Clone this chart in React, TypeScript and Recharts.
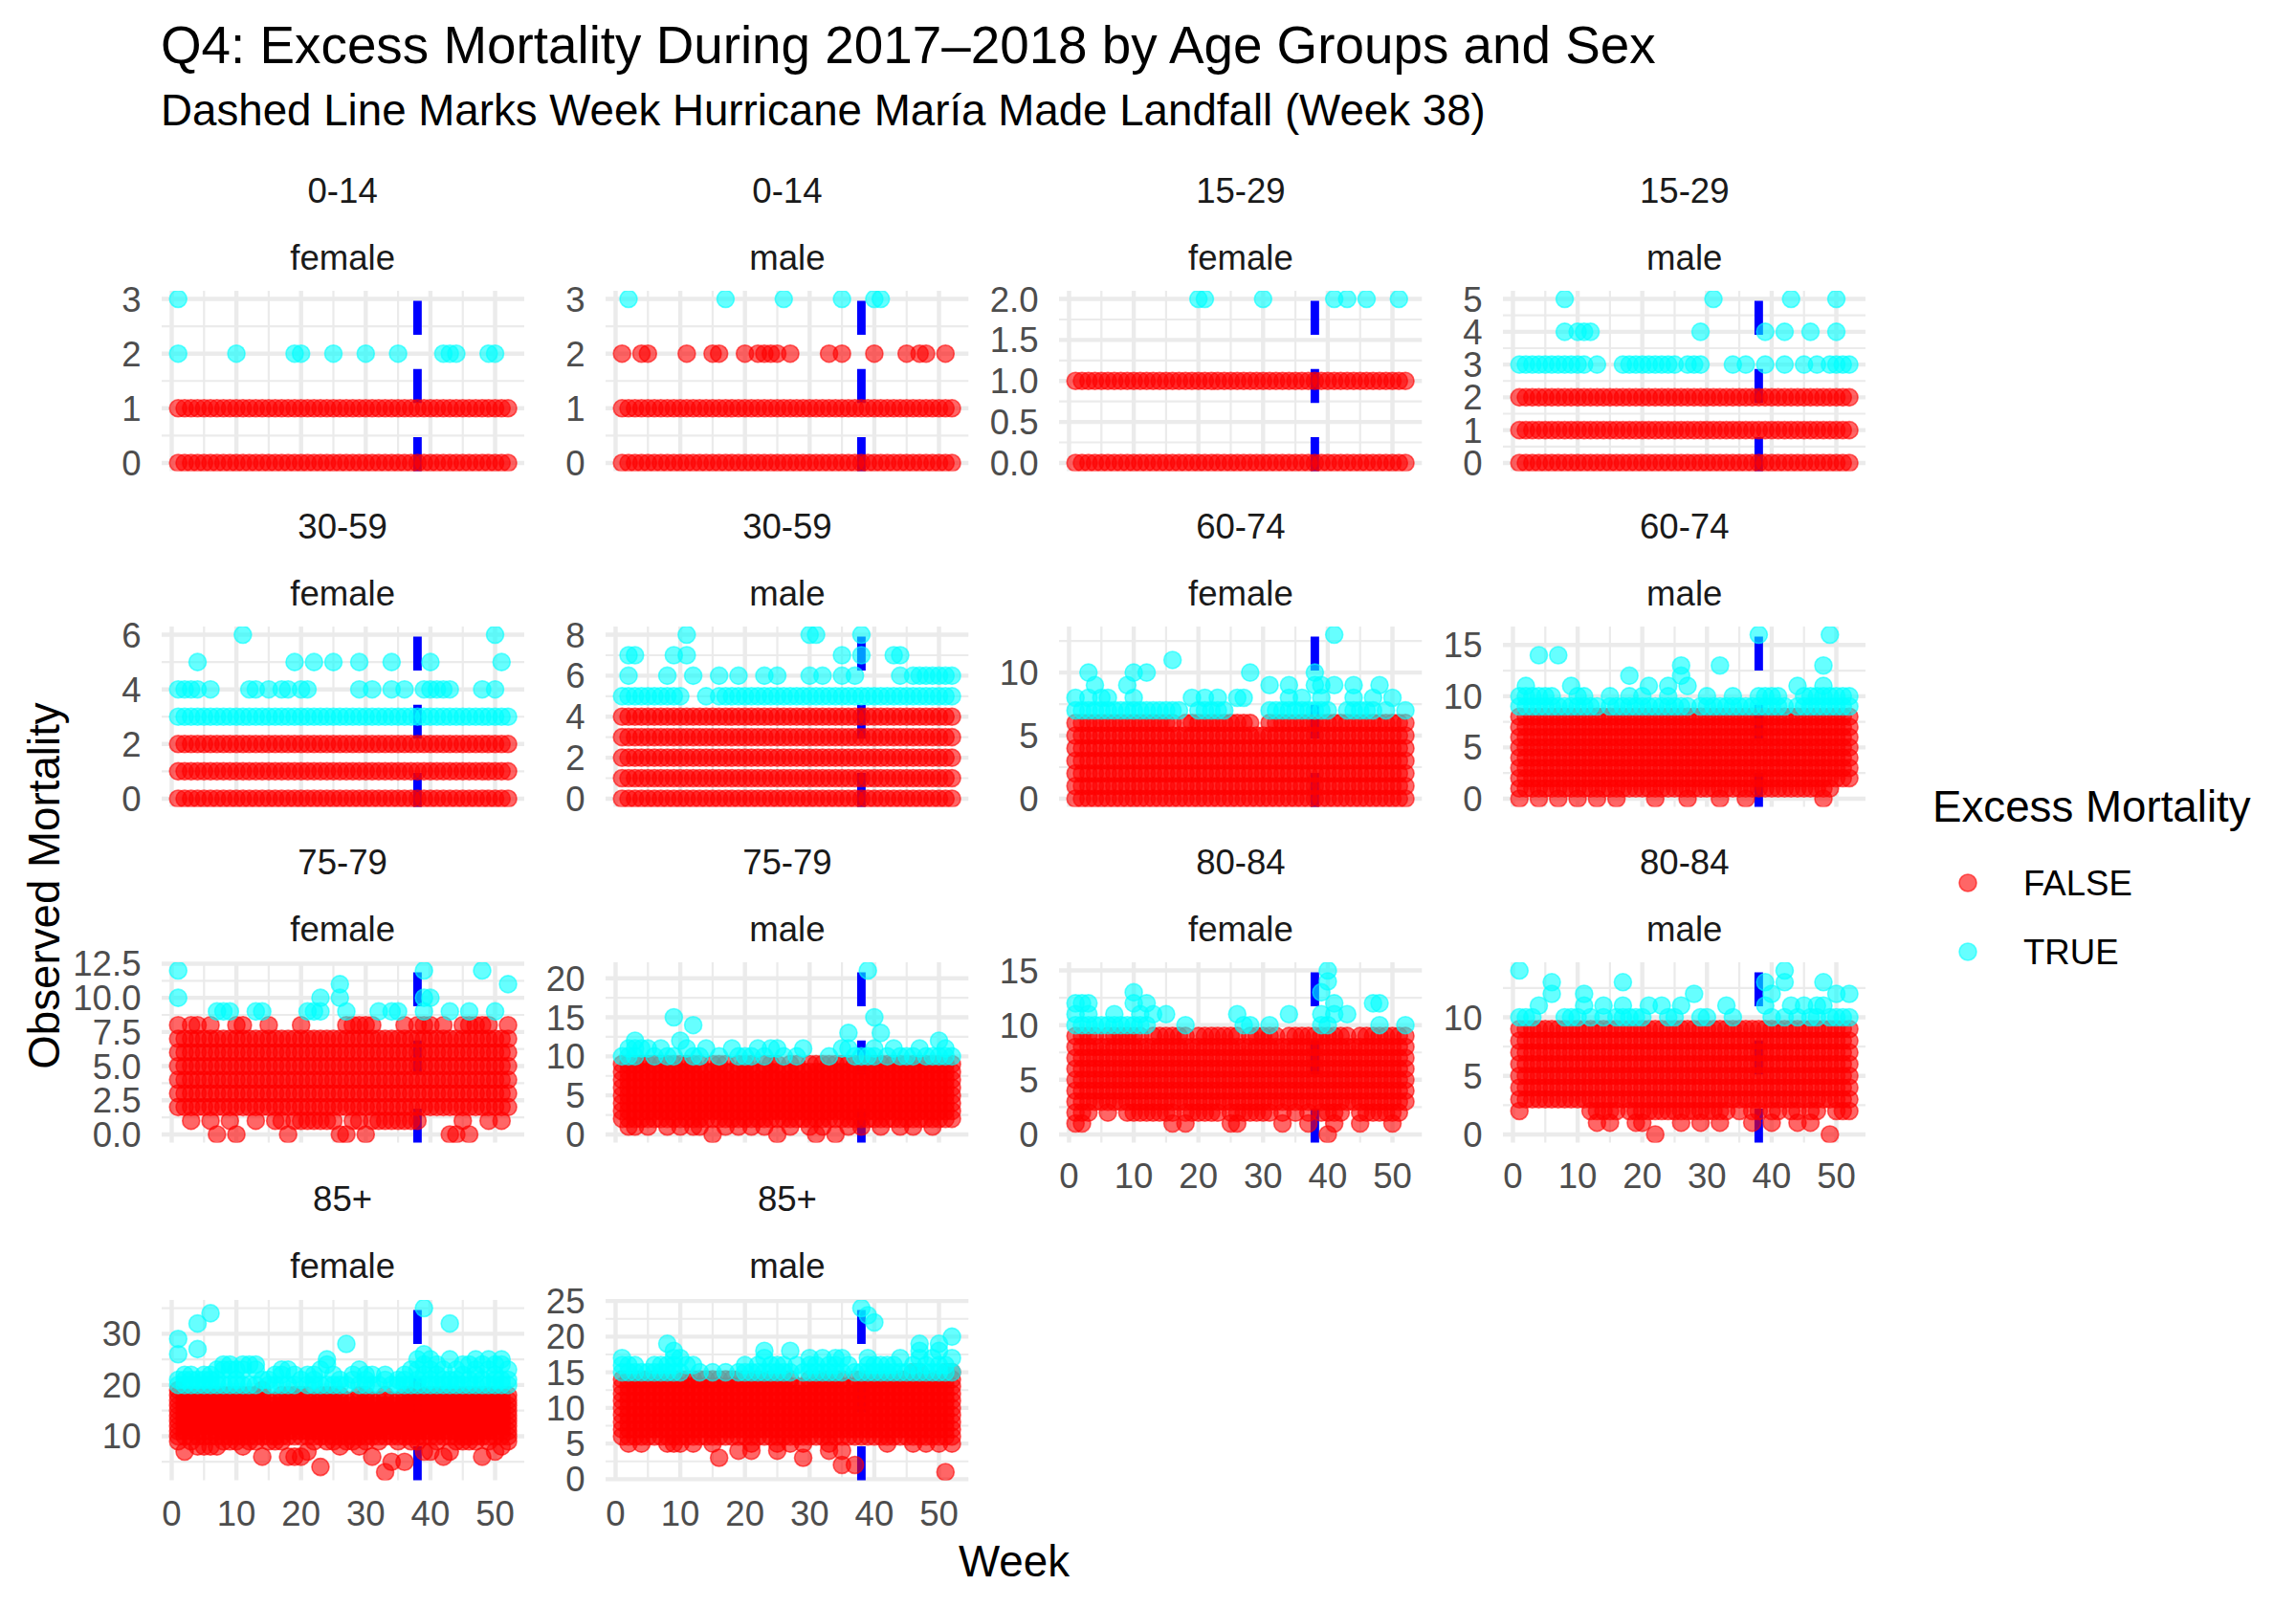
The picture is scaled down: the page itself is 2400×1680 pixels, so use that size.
import React from 'react'
import { ScatterChart, Scatter, XAxis, YAxis, CartesianGrid, ReferenceLine } from 'recharts'

const FONT = '"Liberation Sans", Arial, Helvetica, sans-serif'

// week categories and x ticks
const weeks = [
  1, 2, 3, 4, 5, 6, 7, 8, 9, 10, 11, 12, 13,
  14, 15, 16, 17, 18, 19, 20, 21, 22, 23, 24, 25, 26,
  27, 28, 29, 30, 31, 32, 33, 34, 35, 36, 37, 38, 39,
  40, 41, 42, 43, 44, 45, 46, 47, 48, 49, 50, 51, 52,
]
const xTicks = [0, 10, 20, 30, 40, 50]
const landfallWeek = 38

// ---- 0-14 female
const lo0014F = [
  0, 0, 0, 0, 0, 0, 0, 0, 0, 0, 0, 0, 0,
  0, 0, 0, 0, 0, 0, 0, 0, 0, 0, 0, 0, 0,
  0, 0, 0, 0, 0, 0, 0, 0, 0, 0, 0, 0, 0,
  0, 0, 0, 0, 0, 0, 0, 0, 0, 0, 0, 0, 0,
]
const hi0014F = [
  1, 1, 1, 1, 1, 1, 1, 1, 1, 1, 1, 1, 1,
  1, 1, 1, 1, 1, 1, 1, 1, 1, 1, 1, 1, 1,
  1, 1, 1, 1, 1, 1, 1, 1, 1, 1, 1, 1, 1,
  1, 1, 1, 1, 1, 1, 1, 1, 1, 1, 1, 1, 1,
]
const cy0014F: [number, number[]][] = [
  [3, [1]],
  [2, [1, 10, 19, 20, 25, 30, 35, 42, 43, 44, 49, 50]],
]
const ticks0014F = [0, 1, 2, 3]

// ---- 0-14 male
const lo0014M = lo0014F
const hi0014M = hi0014F
const ex0014M: [number, number[]][] = [
  [2, [1, 4, 5, 11, 15, 16, 20, 22, 23, 24, 25, 27, 33, 35, 40, 45, 47, 48, 51]],
]
const cy0014M: [number, number[]][] = [[3, [2, 17, 26, 35, 40, 41]]]
const ticks0014M = [0, 1, 2, 3]

// ---- 15-29 female
const lo1529F = lo0014F
const hi1529F = hi0014F
const cy1529F: [number, number[]][] = [[2, [20, 21, 30, 41, 43, 46, 51]]]
const ticks1529F = [0, 0.5, 1, 1.5, 2]

// ---- 15-29 male
const lo1529M = lo0014F
const hi1529M = [
  2, 2, 2, 2, 2, 2, 2, 2, 2, 2, 2, 2, 2,
  2, 2, 2, 2, 2, 2, 2, 2, 2, 2, 2, 2, 2,
  2, 2, 2, 2, 2, 2, 2, 2, 2, 2, 2, 2, 2,
  2, 2, 2, 2, 2, 2, 2, 2, 2, 2, 2, 2, 2,
]
const cy1529M: [number, number[]][] = [
  [5, [8, 31, 43, 50]],
  [4, [8, 10, 11, 12, 29, 39, 42, 46, 50]],
  [3, [1, 2, 3, 4, 5, 6, 7, 8, 9, 10, 11, 13, 17, 18, 19, 20, 21, 22, 23, 24, 25, 27, 28, 29,
    34, 36, 39, 42, 45, 47, 49, 50, 51, 52]],
]
const ticks1529M = [0, 1, 2, 3, 4, 5]

// ---- 30-59 female
const lo3059F = lo0014F
const hi3059F = hi1529M
const cy3059F: [number, number[]][] = [
  [6, [11, 50]],
  [5, [4, 19, 22, 25, 29, 34, 40, 51]],
  [4, [1, 2, 3, 4, 6, 12, 13, 15, 17, 18, 20, 21, 29, 31, 34, 36, 39, 40, 41, 42, 43, 48, 50]],
  [3, weeks],
]
const ticks3059F = [0, 2, 4, 6]

// ---- 30-59 male
const lo3059M = lo0014F
const hi3059M = [
  4, 4, 4, 4, 4, 4, 4, 4, 4, 4, 4, 4, 4,
  4, 4, 4, 4, 4, 4, 4, 4, 4, 4, 4, 4, 4,
  4, 4, 4, 4, 4, 4, 4, 4, 4, 4, 4, 4, 4,
  4, 4, 4, 4, 4, 4, 4, 4, 4, 4, 4, 4, 4,
]
const cy3059M: [number, number[]][] = [
  [8, [11, 30, 31, 38]],
  [7, [2, 3, 9, 11, 35, 38, 43, 44]],
  [6, [2, 8, 12, 16, 19, 23, 25, 30, 32, 35, 37, 44, 46, 47, 48, 49, 50, 51, 52]],
  [5, [1, 2, 3, 4, 5, 6, 7, 8, 9, 10, 14, 16, 17, 18, 19, 20, 21, 22, 23, 24, 25, 26, 27, 28,
    29, 30, 31, 32, 33, 34, 35, 36, 37, 38, 39, 40, 41, 42, 43, 44, 45, 46, 47, 48, 49, 50, 51, 52]],
]
const ticks3059M = [0, 2, 4, 6, 8]

// ---- 60-74 female
const lo6074F = lo0014F
const hi6074F = [
  6, 6, 6, 6, 6, 6, 6, 6, 6, 6, 6, 6, 6,
  6, 6, 6, 5, 6, 6, 6, 6, 6, 6, 6, 6, 6,
  6, 6, 5, 5, 6, 6, 6, 6, 6, 6, 6, 6, 6,
  6, 6, 6, 6, 6, 6, 6, 6, 6, 6, 6, 6, 6,
]
const cy6074F: [number, number[]][] = [
  [13, [41]],
  [11, [16]],
  [10, [3, 10, 12, 28, 38]],
  [9, [4, 9, 31, 34, 38, 39, 41, 44, 48]],
  [8, [1, 3, 5, 6, 10, 19, 21, 23, 26, 27, 34, 36, 39, 44, 47, 50]],
  [7, [1, 2, 3, 4, 5, 6, 7, 8, 9, 10, 11, 12, 13, 14, 15, 16, 17, 20, 21, 22, 23, 24, 31, 32,
    33, 34, 35, 36, 37, 38, 39, 40, 43, 44, 45, 46, 47, 49, 52]],
]
const ticks6074F = [0, 5, 10]

// ---- 60-74 male
const lo6074M = [
  1, 1, 1, 1, 1, 1, 1, 1, 1, 1, 1, 1, 1,
  1, 1, 1, 1, 1, 1, 1, 1, 1, 1, 1, 1, 1,
  1, 1, 1, 1, 1, 1, 1, 1, 1, 1, 1, 1, 1,
  1, 1, 1, 1, 1, 1, 1, 1, 1, 1, 2, 2, 2,
]
const hi6074M = [
  8, 8, 8, 8, 8, 8, 8, 8, 8, 8, 8, 8, 8,
  8, 8, 8, 8, 8, 8, 8, 8, 8, 8, 8, 8, 8,
  8, 8, 8, 8, 8, 8, 8, 8, 8, 8, 8, 8, 8,
  8, 8, 8, 8, 8, 8, 8, 8, 8, 8, 8, 8, 8,
]
const ex6074M: [number, number[]][] = [[0, [1, 4, 7, 10, 13, 16, 22, 27, 32, 36, 48]]]
const cy6074M: [number, number[]][] = [
  [16, [38, 49]],
  [14, [4, 7]],
  [13, [26, 32, 48]],
  [12, [18, 26]],
  [11, [2, 9, 21, 24, 27, 44, 48]],
  [10, [1, 2, 3, 4, 5, 6, 10, 11, 15, 18, 20, 24, 30, 34, 38, 39, 40, 41, 45, 46, 47, 48, 49,
    50, 51, 52]],
  [9, [1, 2, 3, 4, 5, 6, 7, 8, 9, 10, 11, 12, 13, 15, 16, 17, 18, 19, 20, 21, 22, 23, 24, 25,
    26, 27, 29, 30, 31, 32, 33, 34, 35, 36, 37, 38, 39, 40, 41, 42, 44, 45, 46, 47, 48, 49, 50,
    51, 52]],
]
const ticks6074M = [0, 5, 10, 15]

// ---- 75-79 female
const lo7579F = [
  2, 2, 1, 2, 2, 1, 2, 2, 1, 2, 2, 2, 1,
  2, 2, 1, 1, 2, 1, 1, 1, 1, 1, 1, 1, 2,
  2, 1, 1, 2, 1, 1, 1, 1, 1, 1, 1, 1, 2,
  2, 2, 2, 2, 2, 1, 2, 2, 2, 1, 2, 1, 2,
]
const hi7579F = [
  8, 7, 8, 8, 7, 8, 7, 7, 7, 8, 8, 7, 7,
  7, 8, 7, 7, 7, 7, 8, 7, 7, 7, 7, 7, 7,
  8, 8, 8, 8, 8, 7, 7, 7, 7, 8, 7, 8, 8,
  8, 7, 8, 7, 7, 8, 8, 8, 8, 8, 7, 7, 8,
]
const ex7579F: [number, number[]][] = [[0, [7, 10, 18, 26, 27, 30, 43, 44, 46]]]
const cy7579F: [number, number[]][] = [
  [12, [1, 39, 48]],
  [11, [26, 52]],
  [10, [1, 23, 26, 39, 40]],
  [9, [7, 8, 9, 13, 14, 21, 22, 23, 27, 32, 34, 35, 39, 43, 46, 50]],
]
const ticks7579F = [0, 2.5, 5, 7.5, 10, 12.5]

// ---- 75-79 male
const lo7579M = [
  2, 1, 1, 2, 1, 2, 2, 1, 2, 1, 2, 1, 1,
  2, 2, 2, 1, 2, 1, 2, 1, 2, 1, 2, 2, 2,
  1, 2, 2, 1, 2, 1, 2, 2, 2, 1, 2, 1, 2,
  2, 1, 2, 2, 1, 2, 1, 2, 2, 1, 2, 2, 2,
]
const hi7579M = [
  9, 9, 9, 9, 9, 9, 9, 9, 9, 9, 9, 9, 9,
  8, 9, 9, 9, 8, 9, 9, 9, 8, 9, 9, 9, 8,
  9, 9, 8, 9, 9, 9, 9, 9, 9, 9, 9, 9, 9,
  9, 9, 9, 9, 9, 9, 9, 9, 9, 9, 9, 9, 9,
]
const ex7579M: [number, number[]][] = [[0, [15, 25, 31, 34]]]
const cy7579M: [number, number[]][] = [
  [21, [39]],
  [15, [9, 40]],
  [14, [12]],
  [13, [36, 41]],
  [12, [3, 10, 50]],
  [11, [2, 3, 4, 5, 7, 11, 14, 18, 22, 24, 25, 29, 35, 36, 40, 43, 47, 51]],
  [10, [1, 2, 3, 6, 8, 9, 12, 13, 16, 19, 20, 21, 23, 26, 28, 33, 37, 38, 39, 40, 42, 44, 45,
    46, 48, 49, 50, 51, 52]],
]
const ticks7579M = [0, 5, 10, 15, 20]

// ---- 80-84 female
const lo8084F = [
  2, 2, 2, 3, 3, 2, 3, 3, 2, 2, 2, 2, 2,
  2, 2, 2, 3, 2, 2, 2, 2, 2, 2, 3, 2, 2,
  2, 2, 2, 2, 2, 3, 2, 3, 2, 3, 2, 3, 2,
  2, 2, 2, 3, 3, 2, 2, 2, 2, 2, 2, 2, 3,
]
const hi8084F = [
  9, 9, 9, 9, 8, 9, 9, 9, 9, 9, 9, 8, 9,
  9, 9, 9, 9, 9, 8, 9, 9, 9, 9, 9, 9, 9,
  8, 9, 9, 9, 9, 9, 8, 9, 9, 9, 9, 9, 9,
  9, 9, 9, 9, 8, 9, 9, 9, 9, 9, 9, 9, 9,
]
const ex8084F: [number, number[]][] = [
  [1, [1, 2, 16, 18, 25, 26, 33, 37, 41, 45, 50]],
  [0, [40]],
]
const cy8084F: [number, number[]][] = [
  [15, [40]],
  [14, [40]],
  [13, [10, 39]],
  [12, [1, 2, 3, 10, 12, 41, 47, 48]],
  [11, [1, 3, 7, 11, 13, 15, 26, 34, 39, 41, 43]],
  [10, [1, 2, 3, 4, 5, 6, 7, 8, 9, 10, 11, 12, 18, 27, 28, 31, 39, 40, 48, 52]],
]
const ticks8084F = [0, 5, 10, 15]

// ---- 80-84 male
const lo8084M = [
  2, 3, 3, 3, 3, 3, 3, 3, 3, 3, 3, 2, 2,
  2, 2, 2, 3, 2, 2, 2, 2, 2, 2, 2, 2, 2,
  2, 2, 2, 2, 2, 2, 2, 3, 2, 3, 2, 2, 3,
  2, 2, 3, 2, 2, 3, 2, 2, 3, 3, 2, 2, 2,
]
const hi8084M = [
  9, 9, 9, 9, 9, 9, 9, 9, 9, 9, 9, 9, 9,
  9, 9, 9, 9, 9, 9, 9, 9, 9, 9, 9, 9, 9,
  9, 9, 9, 9, 9, 9, 9, 9, 9, 9, 9, 9, 9,
  9, 9, 9, 9, 9, 9, 9, 9, 9, 9, 9, 9, 9,
]
const ex8084M: [number, number[]][] = [
  [1, [13, 15, 19, 20, 26, 29, 32, 37, 40, 44, 46]],
  [0, [22, 49]],
]
const cy8084M: [number, number[]][] = [
  [14, [1, 42]],
  [13, [6, 17, 39, 42, 48]],
  [12, [6, 11, 28, 40, 50, 52]],
  [11, [4, 11, 14, 17, 21, 23, 26, 33, 39, 43, 45, 47, 48]],
  [10, [1, 2, 3, 8, 9, 10, 12, 14, 16, 17, 18, 19, 20, 24, 25, 29, 30, 34, 40, 42, 44, 46, 47,
    49, 50, 51, 52]],
]
const ticks8084M = [0, 5, 10]

// ---- 85+ female
const lo85F = [
  9, 10, 9, 10, 10, 10, 10, 9, 9, 9, 10, 9, 9,
  10, 9, 9, 9, 10, 10, 10, 10, 9, 10, 9, 9, 10,
  9, 9, 10, 9, 10, 9, 10, 10, 9, 10, 9, 9, 10,
  10, 9, 10, 10, 9, 9, 9, 9, 10, 9, 10, 10, 9,
]
const hi85F = [
  19, 18, 18, 18, 18, 18, 18, 18, 18, 18, 18, 18, 18,
  19, 17, 17, 18, 18, 18, 18, 18, 17, 18, 18, 18, 18,
  17, 17, 18, 18, 17, 17, 18, 17, 17, 18, 18, 19, 18,
  18, 18, 18, 18, 18, 18, 18, 18, 18, 18, 18, 18, 18,
]
const ex85F: [number, number[]][] = [
  [8, [4, 5, 6, 7, 11, 26, 29, 51]],
  [7, [2, 21, 39, 40, 43, 50]],
  [6, [14, 18, 19, 20, 31, 42, 48]],
  [5, [34, 36]],
  [4, [23]],
  [3, [33]],
]
const cy85F: [number, number[]][] = [
  [35, [39]],
  [34, [6]],
  [32, [4, 43]],
  [29, [1]],
  [28, [27]],
  [27, [4]],
  [26, [1, 39]],
  [25, [24, 38, 40, 43, 47, 49, 51]],
  [24, [8, 9, 11, 12, 13, 24, 39, 41, 45, 46, 48, 50, 51]],
  [23, [7, 8, 9, 10, 11, 13, 17, 18, 23, 29, 37, 38, 40, 42, 44, 47, 49, 52]],
  [22, [2, 3, 5, 6, 16, 17, 19, 21, 22, 25, 28, 30, 31, 33, 36, 39, 41, 45, 47, 50]],
  [21, [1, 2, 3, 4, 5, 6, 7, 10, 14, 15, 20, 22, 26, 28, 30, 33, 35, 36, 38, 40, 42, 43, 44,
    46, 48, 50, 51, 52]],
  [20, [1, 2, 3, 4, 5, 6, 7, 8, 9, 10, 11, 12, 13, 15, 16, 17, 18, 19, 21, 22, 23, 24, 25, 26,
    27, 29, 30, 31, 32, 34, 35, 36, 37, 38, 39, 40, 41, 42, 43, 44, 45, 46, 47, 48, 49, 50, 51, 52]],
]
const ticks85F = [10, 20, 30]

// ---- 85+ male
const lo85M = [
  6, 5, 6, 5, 6, 6, 6, 5, 5, 5, 6, 5, 6,
  6, 5, 6, 6, 6, 6, 6, 5, 6, 6, 6, 5, 6,
  5, 6, 5, 6, 6, 6, 5, 6, 6, 6, 6, 6, 6,
  6, 6, 5, 6, 6, 6, 5, 6, 5, 6, 5, 6, 5,
]
const hi85M = [
  14, 14, 14, 14, 14, 14, 14, 14, 14, 14, 14, 14, 14,
  14, 14, 14, 14, 14, 14, 14, 14, 14, 14, 14, 14, 14,
  14, 13, 13, 14, 14, 14, 14, 14, 14, 13, 14, 14, 14,
  14, 14, 14, 14, 14, 14, 15, 15, 14, 14, 14, 15, 15,
]
const ex85M: [number, number[]][] = [
  [4, [19, 21, 25, 33, 35]],
  [3, [16, 29]],
  [2, [35, 37]],
  [1, [51]],
]
const cy85M: [number, number[]][] = [
  [24, [38]],
  [23, [39]],
  [22, [40]],
  [20, [52]],
  [19, [8, 47, 50]],
  [18, [9, 23, 27, 47, 50]],
  [17, [1, 9, 10, 23, 30, 32, 34, 35, 39, 44, 47, 49, 52]],
  [16, [1, 2, 3, 6, 7, 8, 9, 11, 12, 20, 22, 24, 25, 26, 28, 30, 31, 33, 34, 36, 39, 40, 41,
    42, 43, 46, 48, 50, 51]],
  [15, [1, 2, 3, 4, 5, 6, 7, 8, 9, 10, 13, 15, 17, 19, 20, 21, 22, 23, 24, 25, 26, 27, 29, 30,
    31, 32, 33, 34, 35, 37, 38, 39, 40, 41, 42, 43, 44, 45, 46, 47, 48, 49, 50, 51, 52]],
]
const ticks85M = [0, 5, 10, 15, 20, 25]

type Facet = {
  age: string
  sex: string
  lo: number[]
  hi: number[]
  extra: [number, number[]][]
  cyan: [number, number[]][]
  ticks: number[]
}

const facets: Facet[] = [
  { age: '0-14', sex: 'female', lo: lo0014F, hi: hi0014F, extra: [], cyan: cy0014F, ticks: ticks0014F },
  { age: '0-14', sex: 'male', lo: lo0014M, hi: hi0014M, extra: ex0014M, cyan: cy0014M, ticks: ticks0014M },
  { age: '15-29', sex: 'female', lo: lo1529F, hi: hi1529F, extra: [], cyan: cy1529F, ticks: ticks1529F },
  { age: '15-29', sex: 'male', lo: lo1529M, hi: hi1529M, extra: [], cyan: cy1529M, ticks: ticks1529M },
  { age: '30-59', sex: 'female', lo: lo3059F, hi: hi3059F, extra: [], cyan: cy3059F, ticks: ticks3059F },
  { age: '30-59', sex: 'male', lo: lo3059M, hi: hi3059M, extra: [], cyan: cy3059M, ticks: ticks3059M },
  { age: '60-74', sex: 'female', lo: lo6074F, hi: hi6074F, extra: [], cyan: cy6074F, ticks: ticks6074F },
  { age: '60-74', sex: 'male', lo: lo6074M, hi: hi6074M, extra: ex6074M, cyan: cy6074M, ticks: ticks6074M },
  { age: '75-79', sex: 'female', lo: lo7579F, hi: hi7579F, extra: ex7579F, cyan: cy7579F, ticks: ticks7579F },
  { age: '75-79', sex: 'male', lo: lo7579M, hi: hi7579M, extra: ex7579M, cyan: cy7579M, ticks: ticks7579M },
  { age: '80-84', sex: 'female', lo: lo8084F, hi: hi8084F, extra: ex8084F, cyan: cy8084F, ticks: ticks8084F },
  { age: '80-84', sex: 'male', lo: lo8084M, hi: hi8084M, extra: ex8084M, cyan: cy8084M, ticks: ticks8084M },
  { age: '85+', sex: 'female', lo: lo85F, hi: hi85F, extra: ex85F, cyan: cy85F, ticks: ticks85F },
  { age: '85+', sex: 'male', lo: lo85M, hi: hi85M, extra: ex85M, cyan: cy85M, ticks: ticks85M },
]

// layout (px)
const COL_X = [168.5, 633.3, 1107.3, 1571.1]
const ROW_Y = [304, 655, 1006.4, 1358.5]
const PW = 379.3
const PH = 188.5
const AXIS_W = 110
const XAXIS_H = 60
const PAD = 26 // room above/below the panel so edge tick labels are not clipped
const TICK_FS = 36.6

function redPoints(f: Facet) {
  const pts: { x: number; y: number }[] = []
  weeks.forEach((w, i) => {
    for (let v = f.lo[i]; v <= f.hi[i]; v++) pts.push({ x: w, y: v })
  })
  f.extra.forEach(([v, ws]) => ws.forEach((w) => pts.push({ x: w, y: v })))
  return pts
}

function cyanPoints(f: Facet) {
  const pts: { x: number; y: number }[] = []
  f.cyan.forEach(([v, ws]) => ws.forEach((w) => pts.push({ x: w, y: v })))
  return pts
}

function expand(min: number, max: number): [number, number] {
  const pad = (max - min) * 0.05
  return [min - pad, max + pad]
}

function minorOf(ticks: number[], dom: [number, number]) {
  const step = ticks[1] - ticks[0]
  const out = [ticks[0] - step / 2]
  ticks.forEach((t) => out.push(t + step / 2))
  return out.filter((v) => v >= dom[0] && v <= dom[1])
}

const xDomain = expand(weeks[0], weeks[weeks.length - 1])
const xMinor = minorOf(xTicks, xDomain)

const dot = (color: string) => (p: any) => (
  <circle cx={p.cx} cy={p.cy} r={9} fill={color} fillOpacity={0.6}
    stroke={color} strokeOpacity={0.6} strokeWidth={1.6} />
)
const redDot = dot('#FF0000')
const cyanDot = dot('#00FFFF')

function Panel({ f, idx }: { f: Facet; idx: number }) {
  const row = Math.floor(idx / 4)
  const col = idx % 4
  const showX = row === 3 || (row === 2 && col >= 2)
  const red = redPoints(f)
  const cyan = cyanPoints(f)
  const all = red.concat(cyan).map((p) => p.y)
  const yDomain = expand(Math.min(...all), Math.max(...all))
  const yMinor = minorOf(f.ticks, yDomain)
  const decimals = f.ticks.some((t) => t % 1 !== 0)
  const tick = { fill: '#4D4D4D', fontSize: TICK_FS, fontFamily: FONT }

  return (
    <div style={{ position: 'absolute', left: COL_X[col] - AXIS_W, top: ROW_Y[row] - PAD }}>
      <ScatterChart width={AXIS_W + PW} height={PAD * 2 + PH + (showX ? XAXIS_H : 0)}
        margin={{ top: PAD, right: 0, bottom: PAD, left: 0 }}>
        <CartesianGrid verticalValues={xMinor} horizontalValues={yMinor}
          stroke="#EBEBEB" strokeWidth={2.2} />
        <CartesianGrid verticalValues={xTicks} horizontalValues={f.ticks}
          stroke="#EBEBEB" strokeWidth={4.4} />
        <XAxis type="number" dataKey="x" domain={xDomain} ticks={xTicks} allowDataOverflow
          hide={!showX} height={XAXIS_H} axisLine={false} tickLine={false} tickSize={0}
          tickMargin={22} interval={0} tick={tick} />
        <YAxis type="number" dataKey="y" domain={yDomain} ticks={f.ticks} allowDataOverflow
          width={AXIS_W} axisLine={false} tickLine={false} tickSize={0} tickMargin={21.5}
          interval={0} tick={tick}
          tickFormatter={(v: number) => (decimals ? v.toFixed(1) : String(v))} />
        <Scatter data={red} shape={redDot} isAnimationActive={false} />
        <Scatter data={cyan} shape={cyanDot} isAnimationActive={false} />
        <ReferenceLine
          segment={[{ x: landfallWeek, y: yDomain[0] }, { x: landfallWeek, y: yDomain[1] }]}
          stroke="#0000FF" strokeWidth={8.9} strokeDasharray="35.6 35.6" ifOverflow="visible" />
      </ScatterChart>
    </div>
  )
}

export default function App() {
  return (
    <div style={{ position: 'absolute', left: 0, top: 0, width: 2400, height: 1680,
      background: '#fff', fontFamily: FONT }}>
      <svg width={2400} height={1680} style={{ position: 'absolute', left: 0, top: 0 }}>
        <text x={168} y={65.5} fontSize={54.8} fill="#000">
          Q4: Excess Mortality During 2017–2018 by Age Groups and Sex
        </text>
        <text x={168} y={131} fontSize={45.7} fill="#000">
          Dashed Line Marks Week Hurricane María Made Landfall (Week 38)
        </text>
        {facets.map((f, i) => {
          const row = Math.floor(i / 4)
          const col = i % 4
          const cx = COL_X[col] + PW / 2
          return (
            <g key={i} fill="#1A1A1A" fontSize={TICK_FS} textAnchor="middle">
              <text x={cx} y={ROW_Y[row] - 92.3}>{f.age}</text>
              <text x={cx} y={ROW_Y[row] - 22.3}>{f.sex}</text>
            </g>
          )
        })}
        <text transform="translate(62,926) rotate(-90)" textAnchor="middle" fontSize={45.7}>
          Observed Mortality
        </text>
        <text x={1060} y={1648} textAnchor="middle" fontSize={45.7}>Week</text>

        <text x={2020} y={859} fontSize={45.7}>Excess Mortality</text>
        <circle cx={2057} cy={923} r={9} fill="#FF0000" fillOpacity={0.6}
          stroke="#FF0000" strokeOpacity={0.6} strokeWidth={1.6} />
        <text x={2115} y={936} fontSize={TICK_FS}>FALSE</text>
        <circle cx={2057} cy={995} r={9} fill="#00FFFF" fillOpacity={0.6}
          stroke="#00FFFF" strokeOpacity={0.6} strokeWidth={1.6} />
        <text x={2115} y={1008} fontSize={TICK_FS}>TRUE</text>
      </svg>
      {facets.map((f, i) => <Panel key={i} f={f} idx={i} />)}
    </div>
  )
}
